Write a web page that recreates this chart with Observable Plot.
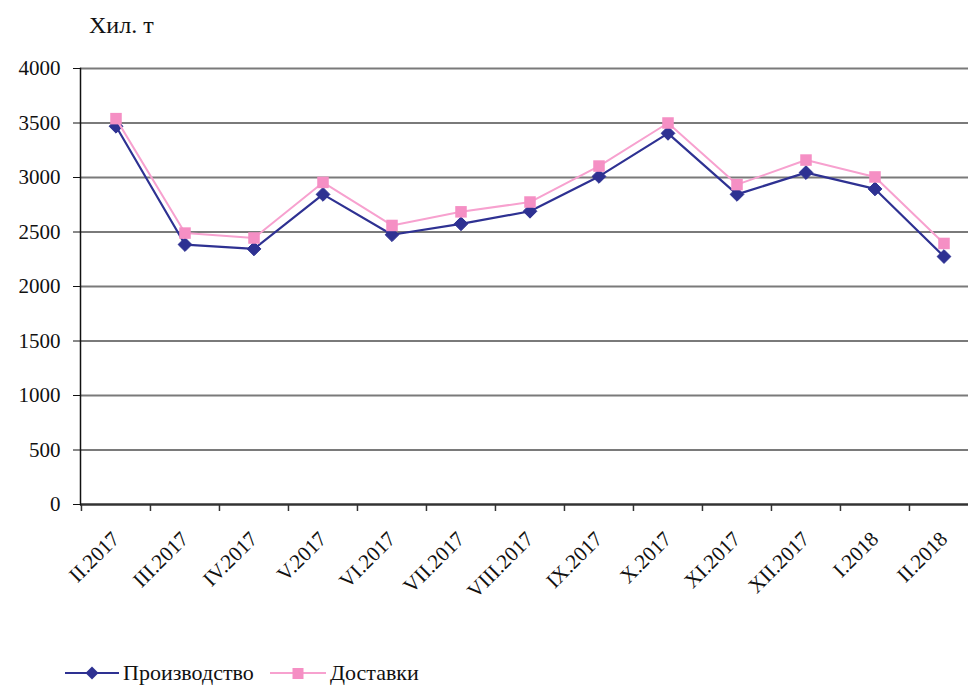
<!DOCTYPE html>
<html><head><meta charset="utf-8">
<script src="https://cdn.jsdelivr.net/npm/d3@7"></script>
<script src="https://cdn.jsdelivr.net/npm/@observablehq/plot@0.6"></script>
<style>
html,body{margin:0;padding:0;background:#fff;}
body{font-family:"Liberation Serif","Times New Roman",serif;color:#111;}
#wrap{position:relative;width:968px;height:695px;overflow:hidden;}
#title{height:40px;box-sizing:border-box;padding-top:13px;padding-left:89px;font-size:24px;line-height:24px;}
#chart svg{display:block;}
#chart svg text{font-family:"Liberation Serif","Times New Roman",serif;}
#legend{position:relative;height:45px;}
.item{position:absolute;top:0;height:45px;display:flex;align-items:center;font-size:22px;}
.item svg{display:block;margin-right:4px;}
</style></head><body>
<div id="wrap">
<div id="title">Хил. т</div>
<div id="chart"></div>
<div id="legend">
  <div class="item" style="left:65px"><svg width="54" height="16"><line x1="0" y1="8" x2="54" y2="8" stroke="#2e3192" stroke-width="2"/><path d="M27,1.5L33.5,8L27,14.5L20.5,8Z" fill="#2e3192"/></svg><span>Производство</span></div>
  <div class="item" style="left:270px"><svg width="56" height="16"><line x1="0" y1="8" x2="56" y2="8" stroke="#f7a1cf" stroke-width="2"/><rect x="22.5" y="3" width="11" height="11" fill="#f58fc4"/></svg><span>Доставки</span></div>
</div>
</div>
<script>
const months = ["II.2017","III.2017","IV.2017","V.2017","VI.2017","VII.2017","VIII.2017","IX.2017","X.2017","XI.2017","XII.2017","I.2018","II.2018"];
const production = [3470,2385,2345,2845,2475,2575,2690,3010,3405,2845,3045,2895,2275];
const deliveries = [3540,2490,2445,2955,2560,2685,2775,3105,3500,2935,3160,3005,2395];
const yTicks = [0,500,1000,1500,2000,2500,3000,3500,4000];

const blue = "#2e3192";
const pinkLine = "#f7a1cf";
const pinkMark = "#f58fc4";

const prodData = months.map((m,i)=>({month:m, value:production[i]}));
const delivData = months.map((m,i)=>({month:m, value:deliveries[i]}));

const x0 = 80, x1 = 978;
const bw = (x1 - x0) / months.length;

const chart = Plot.plot({
  width: 968, height: 610,
  marginTop: 28, marginLeft: 80, marginRight: 0, marginBottom: 146,
  style: {fontFamily: "'Liberation Serif', 'Times New Roman', serif", fontSize: "21px", color: "#111", background: "#fff", overflow: "visible"},
  x: {type: "band", domain: months, range: [x0, x1], padding: 0},
  y: {domain: [0, 4000]},
  marks: [
    Plot.ruleY(yTicks.filter(v => v > 0), {stroke: "#7a7a7a", strokeWidth: 2}),
    Plot.ruleY([0], {stroke: "#333", strokeWidth: 2.5}),
    Plot.ruleX(months, {x: d => d, y1: 0, y2: -64, dx: -bw/2, stroke: "#333", strokeWidth: 1.5}),
    Plot.frame({anchor: "left", stroke: "#111", strokeWidth: 1.5}),
    Plot.axisY({ticks: yTicks, tickFormat: d => String(d), tickSize: 7, tickPadding: 13, label: null, fontSize: 21, stroke: "#111"}),
    Plot.axisX({tickSize: 0, tickPadding: 31, tickRotate: -45, label: null, fontSize: 21}),
    Plot.line(prodData, {x: "month", y: "value", stroke: blue, strokeWidth: 2.2}),
    Plot.dot(prodData, {x: "month", y: "value", symbol: "diamond2", r: 6.2, fill: blue, stroke: blue, strokeWidth: 1}),
    Plot.line(delivData, {x: "month", y: "value", stroke: pinkLine, strokeWidth: 2}),
    Plot.dot(delivData, {x: "month", y: "value", symbol: "square", r: 6.5, fill: pinkMark})
  ]
});
document.getElementById("chart").appendChild(chart);
</script>
</body></html>
